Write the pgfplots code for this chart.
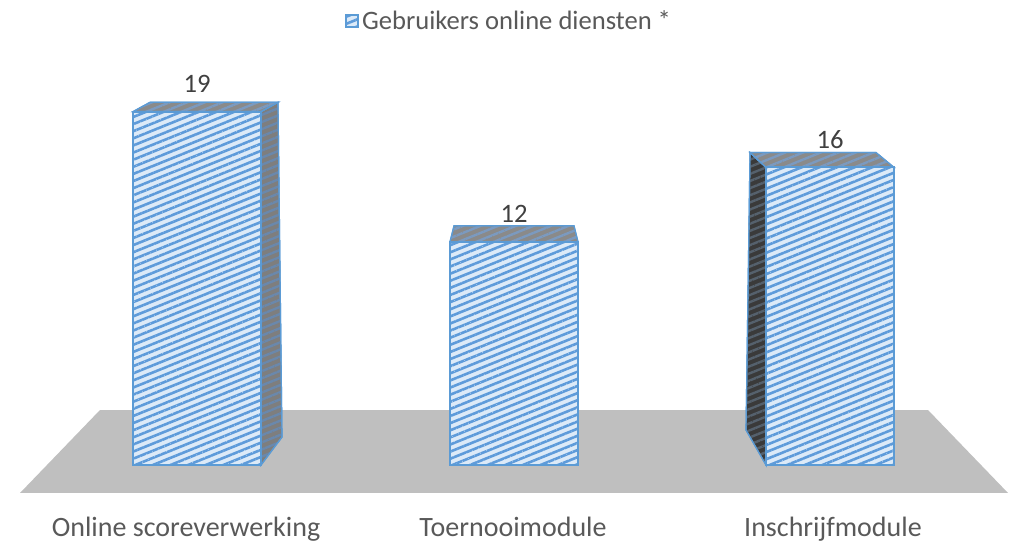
\documentclass[border=0pt]{standalone}
\usepackage{pgfplots}
\pgfplotsset{compat=1.18}
\usetikzlibrary{patterns.meta}
\usepackage{fontspec}
\setmainfont{Carlito}
\definecolor{barbg}{HTML}{DCEAF8}
\definecolor{stripe}{HTML}{5E9BDA}
\definecolor{edge}{HTML}{5B9BD5}
\definecolor{floorgray}{HTML}{BFBFBF}
\definecolor{sidegray}{HTML}{7E7E7E}
\definecolor{sidestripe}{HTML}{6A88AC}
\definecolor{topgray}{HTML}{8A8A8A}
\definecolor{topstripe}{HTML}{7B9AC0}
\definecolor{darkside}{HTML}{3A3A3A}
\definecolor{darkstripe}{HTML}{55616D}
\definecolor{txtgray}{HTML}{595959}
\definecolor{lblgray}{HTML}{404040}
\begin{document}
\begin{tikzpicture}
\begin{axis}[name=ax, scale only axis, width=505.5pt, height=270.5pt,
  xmin=0, xmax=1011, ymin=-4.086, ymax=25.0,
  axis line style={draw=none}, tick style={draw=none}, ytick=\empty,
  /pgf/number format/assume math mode=true,
  xtick={186,513,833},
  xticklabels={Online scoreverwerking, Toernooimodule, Inschrijfmodule},
  xticklabel style={anchor=base, yshift=2.5pt, font=\fontsize{14}{16}\selectfont, text=txtgray},
  legend style={at={(0.5045,0.961)}, anchor=center, draw=none, fill=none,
    font=\fontsize{13.3}{15}\selectfont, text=txtgray},
  legend image code/.code={\draw[#1, line width=0.5pt] (0pt,-3pt) rectangle (6pt,3pt);},
]
% floor
\addplot[fill=floorgray, draw=none, forget plot] coordinates {(20,-1.505) (1008,-1.505) (928,2.957) (100,2.957)} -- cycle;
% bar 1 right side and top
\addplot[preaction={fill=sidegray}, pattern={Lines[angle=22,distance=3.3pt,line width=1.2pt]}, pattern color=sidestripe, draw=edge, line width=0.6pt, forget plot]
  coordinates {(261,19) (278,19.5) (282,1.5) (261,0)} -- cycle;
\addplot[preaction={fill=topgray}, pattern={Lines[angle=22,distance=3.3pt,line width=1.2pt]}, pattern color=topstripe, draw=edge, line width=0.6pt, forget plot]
  coordinates {(133,19) (261,19) (278,19.5) (150,19.5)} -- cycle;
% bar 2 top
\addplot[preaction={fill=topgray}, pattern={Lines[angle=22,distance=3.3pt,line width=1.2pt]}, pattern color=topstripe, draw=edge, line width=0.6pt, forget plot]
  coordinates {(450,12) (578,12) (574,12.86) (454,12.86)} -- cycle;
% bar 3 left side and top
\addplot[preaction={fill=darkside}, pattern={Lines[angle=22,distance=3.3pt,line width=1.2pt]}, pattern color=darkstripe, draw=edge, line width=0.6pt, forget plot]
  coordinates {(766,16) (750,16.8) (746,1.88) (766,0)} -- cycle;
\addplot[preaction={fill=topgray}, pattern={Lines[angle=22,distance=3.3pt,line width=1.2pt]}, pattern color=topstripe, draw=edge, line width=0.6pt, forget plot]
  coordinates {(766,16) (894,16) (876,16.8) (750,16.8)} -- cycle;
% front faces (data)
\addplot[ybar, bar width=128, preaction={fill=barbg},
  pattern={Lines[angle=22,distance=3.3pt,line width=1.3pt]}, pattern color=stripe,
  draw=edge, line width=1pt,
  nodes near coords,
  every node near coord/.style={anchor=south, inner sep=0pt, yshift=9pt,
    font=\fontsize{13.3}{15}\selectfont, text=lblgray}]
  coordinates {(197,19) (514,12) (830,16)};
\addlegendentry{Gebruikers online diensten *}
\end{axis}
\pgfresetboundingbox
\path[use as bounding box] (ax.south west) rectangle (ax.north east);
\end{tikzpicture}
\end{document}
